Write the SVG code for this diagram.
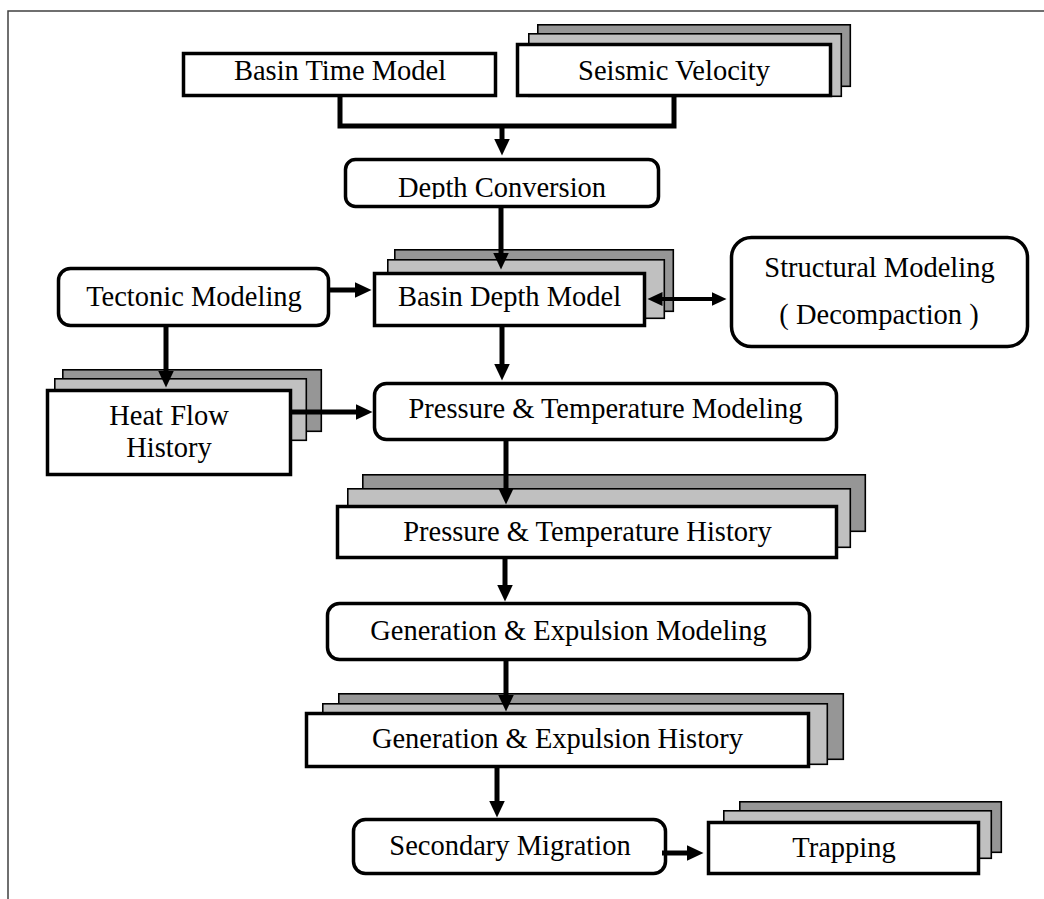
<svg xmlns="http://www.w3.org/2000/svg" width="1044" height="899" viewBox="0 0 1044 899">
<style>
text{font-family:"Liberation Serif","Times New Roman",serif;font-size:28.5px;fill:#000;text-anchor:middle}
.front{fill:#fff;stroke:#000;stroke-width:3.5}
.round{fill:#fff;stroke:#000;stroke-width:3.5}
.mid{fill:#c0c0c0;stroke:#000;stroke-width:1.6}
.back{fill:#969696;stroke:#000;stroke-width:1.6}
.conn{fill:none;stroke:#000;stroke-width:5}
.thin{fill:none;stroke:#000;stroke-width:4}
.frame{fill:none;stroke:#404040;stroke-width:1.5}
</style>
<defs>
<marker id="ah" markerUnits="userSpaceOnUse" markerWidth="18" markerHeight="18" refX="0.5" refY="8" orient="auto">
<path d="M0,0 L17,8 L0,16 z" fill="#000"/>
</marker>
<marker id="ahs" markerUnits="userSpaceOnUse" markerWidth="16" markerHeight="16" refX="0.5" refY="7" orient="auto-start-reverse">
<path d="M0,0 L15,7 L0,14 z" fill="#000"/>
</marker>
<clipPath id="dcclip"><rect x="340" y="150" width="330" height="49"/></clipPath>
</defs>
<path class="frame" d="M8,899 V11 H1044"/>
<g id="basin-time-model">
<rect class="front" x="183.5" y="53.5" width="312" height="42"/>
<text x="340" y="80">Basin Time Model</text>
</g>
<g id="seismic-velocity">
<rect class="back" x="537.8" y="24.8" width="312.5" height="61.5"/>
<rect class="mid" x="528.8" y="33.8" width="312.5" height="62.5"/>
<rect class="front" x="517.5" y="44.5" width="313" height="51"/>
<text x="674" y="80">Seismic Velocity</text>
</g>
<g id="depth-conversion">
<rect class="round" x="345.5" y="159.5" width="313" height="47" rx="10"/>
<text x="502" y="197" clip-path="url(#dcclip)">Depth Conversion</text>
</g>
<g id="tectonic-modeling">
<rect class="round" x="58.5" y="268.5" width="270" height="57" rx="12"/>
<text x="194" y="306">Tectonic Modeling</text>
</g>
<g id="basin-depth-model">
<rect class="back" x="394.8" y="249.8" width="278.5" height="61.5"/>
<rect class="mid" x="387.8" y="259.8" width="276.5" height="58.5"/>
<rect class="front" x="374.5" y="273.5" width="270" height="52"/>
<text x="509.5" y="306">Basin Depth Model</text>
</g>
<g id="structural-modeling">
<rect class="round" x="731.5" y="237.5" width="296" height="109" rx="20"/>
<text x="879.5" y="277">Structural Modeling</text>
<text x="879" y="324">( Decompaction )</text>
</g>
<g id="heat-flow-history">
<rect class="back" x="62.8" y="369.8" width="258.5" height="61.5"/>
<rect class="mid" x="54.8" y="378.8" width="251.5" height="61.5"/>
<rect class="front" x="47.5" y="390.5" width="243" height="84"/>
<text x="169" y="425">Heat Flow</text>
<text x="169" y="457">History</text>
</g>
<g id="pt-modeling">
<rect class="round" x="374.5" y="383.5" width="462" height="56" rx="12"/>
<text x="605.5" y="418">Pressure &amp; Temperature Modeling</text>
</g>
<g id="pt-history">
<rect class="back" x="362.8" y="474.8" width="502.5" height="56.5"/>
<rect class="mid" x="347.8" y="488.8" width="502.5" height="58.5"/>
<rect class="front" x="337.5" y="506.5" width="499" height="51"/>
<text x="587.5" y="541">Pressure &amp; Temperature History</text>
</g>
<g id="ge-modeling">
<rect class="round" x="327.5" y="603.5" width="482" height="56" rx="12"/>
<text x="568.5" y="640">Generation &amp; Expulsion Modeling</text>
</g>
<g id="ge-history">
<rect class="back" x="338.8" y="693.8" width="504.5" height="65.5"/>
<rect class="mid" x="322.8" y="703.8" width="504.5" height="60.5"/>
<rect class="front" x="306.5" y="713.5" width="502" height="53"/>
<text x="557.5" y="748">Generation &amp; Expulsion History</text>
</g>
<g id="secondary-migration">
<rect class="round" x="353.5" y="819.5" width="312" height="54" rx="12"/>
<text x="510" y="855">Secondary Migration</text>
</g>
<g id="trapping">
<rect class="back" x="739.8" y="801.8" width="261.5" height="50.5"/>
<rect class="mid" x="723.8" y="810.8" width="267.5" height="47.5"/>
<rect class="front" x="708.5" y="822.5" width="270" height="51"/>
<text x="844" y="857">Trapping</text>
</g>
<g id="connectors">
<path class="conn" d="M340,97 V126 H674 V97"/>
<path class="conn" d="M502,126 V139" marker-end="url(#ah)"/>
<path class="conn" d="M501,208 V253" marker-end="url(#ah)"/>
<path class="conn" d="M330,290 H355" marker-end="url(#ah)"/>
<path class="thin" d="M662,299 H712" marker-start="url(#ahs)" marker-end="url(#ahs)"/>
<path class="conn" d="M166,327 V371" marker-end="url(#ah)"/>
<path class="conn" d="M502,327 V364" marker-end="url(#ah)"/>
<path class="conn" d="M292,412 H356" marker-end="url(#ah)"/>
<path class="conn" d="M506,441 V488" marker-end="url(#ah)"/>
<path class="conn" d="M505,559 V585" marker-end="url(#ah)"/>
<path class="conn" d="M506,661 V695" marker-end="url(#ah)"/>
<path class="conn" d="M497,768 V801" marker-end="url(#ah)"/>
<path class="conn" d="M662,853 H687" marker-end="url(#ah)"/>
</g>
</svg>
